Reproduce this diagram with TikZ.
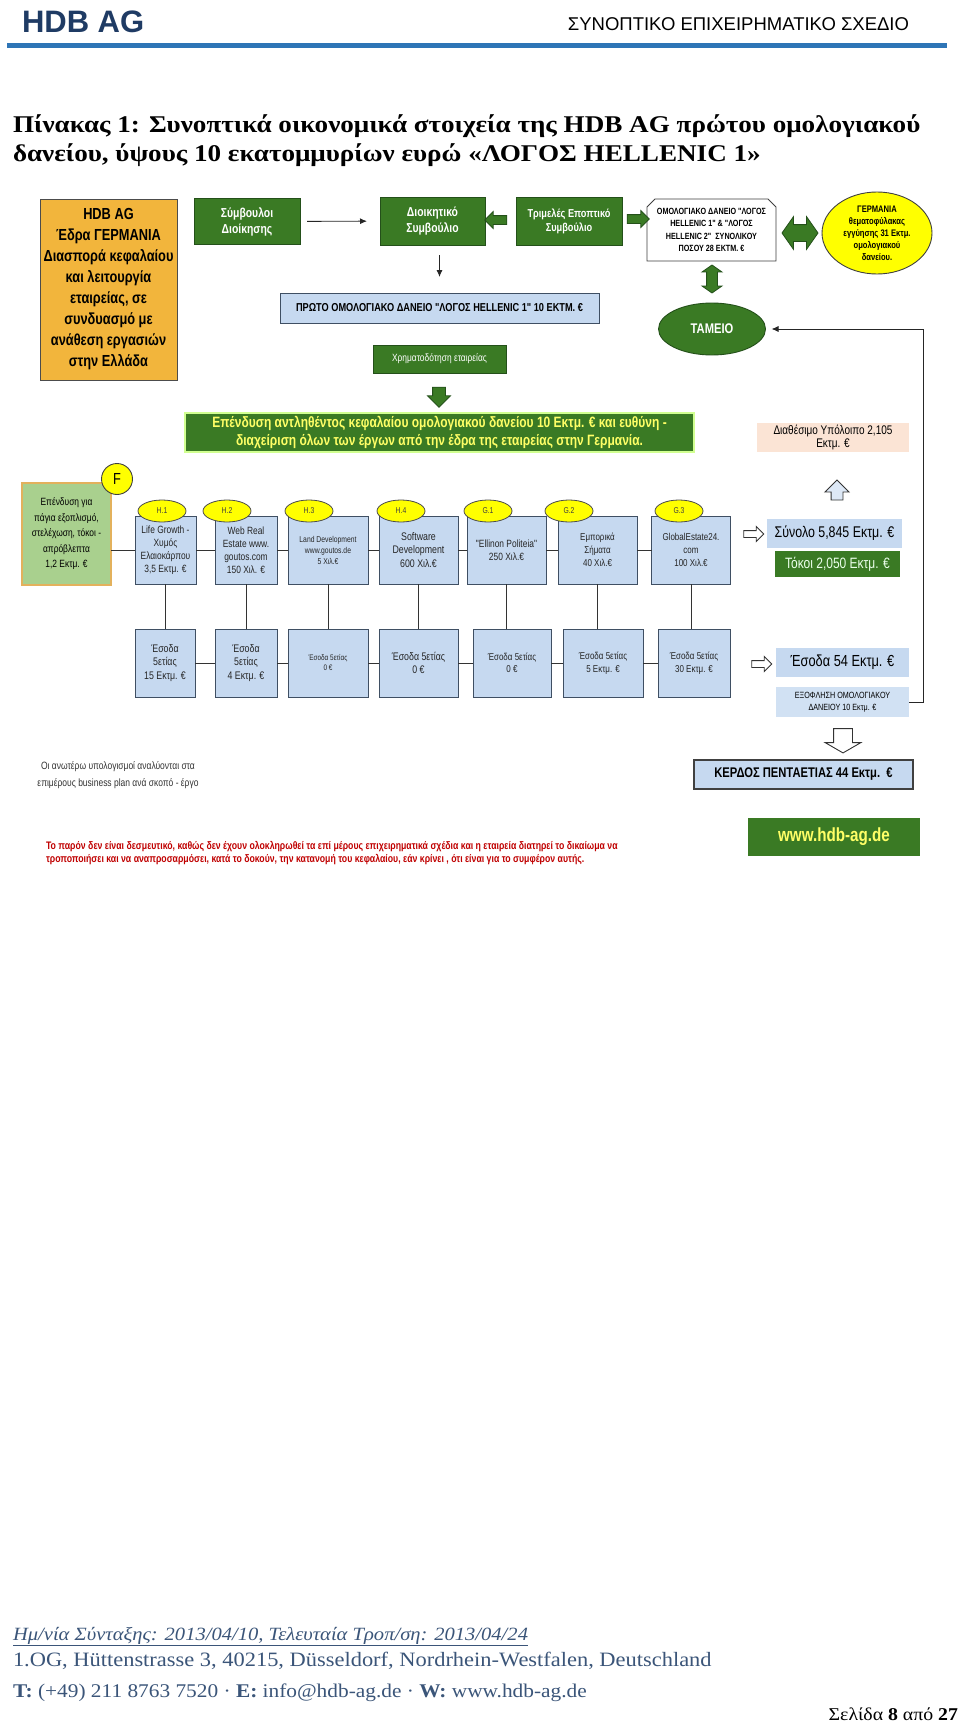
\documentclass[tikz,border=0pt]{standalone}
\usepackage{fontspec}
\setmainfont{Liberation Serif}
\setsansfont{Liberation Sans}
\newfontfamily\narrowsf[FakeStretch=0.8]{Liberation Sans}
\newfontfamily\wideserif[FakeStretch=1.1]{Liberation Serif}
\newfontfamily\titleserif[FakeStretch=1.13]{Liberation Serif}
\usepackage{xcolor}
\usepackage{tikz}
\usetikzlibrary{arrows.meta,positioning,shapes.geometric,shapes.arrows,shapes.misc}
\definecolor{hdbnavy}{HTML}{1F3B64}
\definecolor{hdbrule}{HTML}{2E75B6}
\definecolor{hdbgreen}{HTML}{3A7A24}
\definecolor{hdbgreendark}{HTML}{24501A}
\definecolor{hdbpale}{HTML}{C6D9F0}
\definecolor{hdbedge}{HTML}{3F4F63}
\definecolor{hdbgold}{HTML}{F2B53C}
\definecolor{hdbyellow}{HTML}{FFFF00}
\definecolor{hdbsage}{HTML}{A9D08E}
\definecolor{hdbtan}{HTML}{E3B15C}
\definecolor{hdbpeach}{HTML}{FBE4D5}
\definecolor{hdbred}{HTML}{C00000}
\definecolor{hdbfoot}{HTML}{3B5579}
\definecolor{hdblemon}{HTML}{FFFF66}
\newcommand{\fsz}[2]{\fontsize{#1}{#2}\selectfont}

\begin{document}
\begin{tikzpicture}[
    x=1pt, y=-1pt,
    every node/.style={inner sep=0pt, outer sep=0pt},
    box/.style={draw=hdbedge, line width=.9pt, align=center},
    greenbox/.style={box, fill=hdbgreen, draw=hdbgreendark, text=white},
    projbox/.style={box, fill=hdbpale, minimum height=68, text=black!85},
    tag/.style={ellipse, draw=black!70, fill=hdbyellow, line width=.8pt,
      minimum width=48, minimum height=22, text=black!75,
      font=\narrowsf\fsz{8.5}{9}},
    panel/.style={fill=hdbpale, align=center},
    flow/.style={-{Latex[length=7pt,width=6pt]}, line width=.9pt, black!85},
    wire/.style={line width=.9pt, black!80},
    solidarrow/.style={single arrow, draw=hdbgreendark, fill=hdbgreen,
      line width=.8pt},
    solidpair/.style={double arrow, draw=hdbgreendark, fill=hdbgreen,
      line width=.8pt, double arrow tip angle=110},
    hollowarrow/.style={single arrow, draw=black!80, fill=white,
      line width=.9pt}
  ]
    \fill[white] (0,0) rectangle (960,1723);

    \node[anchor=base west, text=hdbnavy, font=\sffamily\bfseries\fsz{31}{34}]
      (brand) at (22,33) {HDB AG};
    \node[anchor=base east, font=\sffamily\fsz{18.5}{20}] (runhead) at (909,31)
      {ΣΥΝΟΠΤΙΚΟ ΕΠΙΧΕΙΡΗΜΑΤΙΚΟ ΣΧΕΔΙΟ};
    \draw[hdbrule, line width=5pt] (7,46) -- (947,46);

    \node[anchor=base west, font=\titleserif\bfseries\fsz{24}{29}] (title1)
      at (13,133) {Πίνακας 1: Συνοπτικά οικονομικά στοιχεία της HDB AG πρώτου ομολογιακού};
    \node[anchor=base west, font=\titleserif\bfseries\fsz{24}{29}] (title2)
      at (13,162) {δανείου, ύψους 10 εκατομμυρίων ευρώ «ΛΟΓΟΣ HELLENIC 1»};

    \node[box, fill=hdbgold, draw=black!70, minimum width=137, minimum height=181,
      font=\narrowsf\bfseries\fsz{16}{21}] (seat) at (108.5,289.5)
      {HDB AG\\Έδρα ΓΕΡΜΑΝΙΑ\\Διασπορά κεφαλαίου\\και λειτουργία\\εταιρείας, σε\\συνδυασμό με\\ανάθεση εργασιών\\στην Ελλάδα};
    \node[greenbox, minimum width=106, minimum height=46,
      font=\narrowsf\bfseries\fsz{13}{16}] (advisors) at (247,221.5)
      {Σύμβουλοι\\Διοίκησης};
    \node[greenbox, minimum width=105, minimum height=48,
      font=\narrowsf\bfseries\fsz{13}{16}] (board) at (432.5,221)
      {Διοικητικό\\Συμβούλιο};
    \node[greenbox, minimum width=106, minimum height=48,
      font=\narrowsf\bfseries\fsz{11.5}{14}] (supervisory) at (569,221)
      {Τριμελές Εποπτικό\\Συμβούλιο};
    \node[box, chamfered rectangle, chamfered rectangle corners={north west,north east},
      chamfered rectangle sep=4pt, draw=black!75, fill=white,
      minimum width=129, minimum height=62,
      font=\narrowsf\bfseries\fsz{9}{12.5}] (bonds) at (711.5,230)
      {ΟΜΟΛΟΓΙΑΚΟ ΔΑΝΕΙΟ "ΛΟΓΟΣ\\HELLENIC 1" \& "ΛΟΓΟΣ\\HELLENIC 2"\ \ ΣΥΝΟΛΙΚΟΥ\\ΠΟΣΟΥ 28 ΕΚΤΜ. €};
    \node[ellipse, draw=black!75, fill=hdbyellow, line width=.9pt, align=center,
      minimum width=110, minimum height=82,
      font=\narrowsf\bfseries\fsz{9.5}{12}] (custodian) at (877,233)
      {ΓΕΡΜΑΝΙΑ\\θεματοφύλακας\\εγγύησης 31 Εκτμ.\\ομολογιακού\\δανείου.};
    \node[ellipse, fill=hdbgreen, draw=hdbgreendark, line width=.9pt, text=white,
      minimum width=107, minimum height=52,
      font=\narrowsf\bfseries\fsz{14}{16}] (treasury) at (712,329) {ΤΑΜΕΙΟ};

    \node[solidarrow, shape border rotate=180, minimum height=22, inner sep=4pt,
      single arrow head extend=4pt] (toboard) at (498,220) {};
    \node[solidarrow, minimum height=22, inner sep=4pt,
      single arrow head extend=4pt] (tobonds) at (636,219) {};
    \node[solidpair, minimum height=36, inner sep=8pt,
      double arrow head extend=8pt] (guarantee) at (800,233) {};
    \node[solidpair, shape border rotate=90, minimum height=28, inner sep=5pt,
      double arrow head extend=4.5pt] (fund) at (712,279) {};

    \node[box, fill=hdbpale, minimum width=319, minimum height=30,
      font=\narrowsf\bfseries\fsz{11.5}{13}] (firstbond) at (439.5,308)
      {ΠΡΩΤΟ ΟΜΟΛΟΓΙΑΚΟ ΔΑΝΕΙΟ "ΛΟΓΟΣ HELLENIC 1" 10 ΕΚΤΜ. €};
    \node[greenbox, minimum width=133, minimum height=28,
      font=\narrowsf\fsz{10.5}{12}] (financing) at (439.5,359)
      {Χρηματοδότηση εταιρείας};
    \node[solidarrow, shape border rotate=270, minimum height=20, inner sep=6pt,
      single arrow head extend=5pt] (toinvest) at (439,394) {};
    \node[greenbox, draw=hdblemon!70!green!60, line width=1.2pt, text=hdblemon,
      minimum width=509, minimum height=39,
      font=\narrowsf\bfseries\fsz{15}{17.5}] (invest) at (439.5,432.5)
      {Επένδυση αντληθέντος κεφαλαίου ομολογιακού δανείου 10 Εκτμ. € και ευθύνη -\\διαχείριση όλων των έργων από την έδρα της εταιρείας στην Γερμανία.};

    \draw[flow, shorten <=7pt, shorten >=13pt] (advisors) -- (board);
    \draw[flow, shorten <=10pt, shorten >=16pt] (firstbond.north |- board.south)
      -- (firstbond.north);

    \node[fill=hdbpeach, align=center, minimum width=152, minimum height=29,
      font=\narrowsf\fsz{12.5}{13}] (balance) at (833,437.5)
      {Διαθέσιμο Υπόλοιπο 2,105\\Εκτμ. €};
    \node[hollowarrow, fill=hdbpale!60, shape border rotate=90, minimum height=20,
      inner sep=5.5pt, single arrow head extend=6pt] (upbalance) at (837,493) {};

    \node[box, fill=hdbsage, draw=hdbtan, line width=1.2pt, minimum width=89,
      minimum height=102, font=\narrowsf\fsz{10.5}{15.5}] (fixed) at (66.5,534)
      {Επένδυση για\\πάγια εξοπλισμό,\\στελέχωση, τόκοι -\\απρόβλεπτα\\1,2 Εκτμ. €};
    \node[circle, draw=black!75, fill=hdbyellow, line width=.9pt, minimum size=31,
      font=\narrowsf\fsz{16}{18}] (ftag) at (117,479) {F};

    \node[projbox, minimum width=61, font=\narrowsf\fsz{10.5}{13}] (h1)
      at (165.5,550) {Life Growth -\\Χυμός\\Ελαιοκάρπου\\3,5 Εκτμ. €};
    \node[projbox, minimum width=62, font=\narrowsf\fsz{10.5}{13}] (h2)
      at (246,550) {Web Real\\Estate www.\\goutos.com\\150 Χιλ. €};
    \node[projbox, minimum width=80, font=\narrowsf\fsz{8.5}{11}] (h3)
      at (328,550) {Land Development\\www.goutos.de\\5 Χιλ.€};
    \node[projbox, minimum width=79, font=\narrowsf\fsz{11}{13.5}] (h4)
      at (418.5,550) {Software\\Development\\600 Χιλ.€};
    \node[projbox, minimum width=79, font=\narrowsf\fsz{10.5}{13}] (g1)
      at (506.5,550) {"Ellinon Politeia"\\250 Χιλ.€};
    \node[projbox, minimum width=79, font=\narrowsf\fsz{10}{13}] (g2)
      at (597.5,550) {Εμπορικά\\Σήματα\\40 Χιλ.€};
    \node[projbox, minimum width=79, font=\narrowsf\fsz{10}{13}] (g3)
      at (691,550) {GlobalEstate24.\\com\\100 Χιλ.€};

    \node[projbox, minimum width=60, font=\narrowsf\fsz{11}{13.5}] (b1)
      at (165,663) {Έσοδα\\5ετίας\\15 Εκτμ. €};
    \node[projbox, minimum width=62, font=\narrowsf\fsz{11}{13.5}] (b2)
      at (246,663) {Έσοδα\\5ετίας\\4 Εκτμ. €};
    \node[projbox, minimum width=80, font=\narrowsf\fsz{8}{10}] (b3)
      at (328,663) {Έσοδα 5ετίας\\0 €};
    \node[projbox, minimum width=79, font=\narrowsf\fsz{11}{13.5}] (b4)
      at (418.5,663) {Έσοδα 5ετίας\\0 €};
    \node[projbox, minimum width=78, font=\narrowsf\fsz{10}{12.5}] (b5)
      at (512,663) {Έσοδα 5ετίας\\0 €};
    \node[projbox, minimum width=80, font=\narrowsf\fsz{10}{12.5}] (b6)
      at (603,663) {Έσοδα 5ετίας\\5 Εκτμ. €};
    \node[projbox, minimum width=72, font=\narrowsf\fsz{10}{12.5}] (b7)
      at (694,663) {Έσοδα 5ετίας\\30 Εκτμ. €};

    \draw[wire] (fixed.east |- h1.west) -- (h1.west);
    \foreach \a/\b in {h1/h2,h2/h3,h3/h4,h4/g1,g1/g2,g2/g3,
                       b1/b2,b2/b3,b3/b4,b4/b5,b5/b6,b6/b7}
      \draw[wire] (\a.east) -- (\b.west);
    \foreach \a/\b in {h1/b1,h2/b2,h3/b3,h4/b4,g1/b5,g2/b6,g3/b7}
      \draw[wire] (\a.south) -- (\a.south |- \b.north);

    \node[tag] (t1) at (162,511) {H.1};
    \node[tag] (t2) at (227,511) {H.2};
    \node[tag] (t3) at (309,511) {H.3};
    \node[tag] (t4) at (401,511) {H.4};
    \node[tag] (t5) at (488,511) {G.1};
    \node[tag] (t6) at (569,511) {G.2};
    \node[tag] (t7) at (679,511) {G.3};

    \node[hollowarrow, minimum height=20, inner sep=3pt,
      single arrow head extend=4pt] (tosum) at (752,534) {};
    \node[panel, minimum width=135, minimum height=29,
      font=\narrowsf\fsz{15.5}{18}] (total) at (834.5,533.5) {Σύνολο 5,845 Εκτμ. €};
    \node[fill=hdbgreen, text=green!8, minimum width=125, minimum height=26,
      font=\narrowsf\fsz{15}{17}] (interest) at (837.5,564) {Τόκοι 2,050 Εκτμ. €};

    \node[hollowarrow, minimum height=20, inner sep=3pt,
      single arrow head extend=4pt] (torevenue) at (760,664) {};
    \node[panel, minimum width=133, minimum height=29,
      font=\narrowsf\fsz{16}{18}] (revenue) at (842.5,662.5) {Έσοδα 54 Εκτμ. €};
    \node[panel, fill=hdbpale!80, minimum width=133, minimum height=30,
      font=\narrowsf\fsz{9}{12}] (repay) at (842.5,702)
      {ΕΞΟΦΛΗΣΗ ΟΜΟΛΟΓΙΑΚΟΥ\\ΔΑΝΕΙΟΥ 10 Εκτμ. €};
    \node[hollowarrow, shape border rotate=270, minimum height=21, inner sep=9pt,
      single arrow head extend=8.5pt, single arrow tip angle=120] (toprofit)
      at (843,738) {};
    \node[box, fill=hdbpale, draw=black!75, line width=1.1pt, minimum width=219,
      minimum height=29, font=\narrowsf\bfseries\fsz{14}{15}] (profit)
      at (803.5,774.5) {ΚΕΡΔΟΣ ΠΕΝΤΑΕΤΙΑΣ 44 Εκτμ.\ \ €};

    \coordinate (turn) at (923,702);
    \draw[flow, shorten >=6pt] (repay.east) -- (turn) |- (treasury.east);

    \node[align=center, text=black!80, font=\narrowsf\fsz{10.6}{16.5}] (note)
      at (118,775) {Οι ανωτέρω υπολογισμοί αναλύονται στα\\επιμέρους business plan ανά σκοπό - έργο};
    \node[fill=hdbgreen, text=hdblemon, minimum width=172, minimum height=38,
      font=\narrowsf\bfseries\fsz{19}{21}] (web) at (834,837) {www.hdb-ag.de};
    \node[anchor=west, align=left, text=hdbred, font=\narrowsf\bfseries\fsz{10.9}{13}]
      (disclaimer) at (46,853.5)
      {Το παρόν δεν είναι δεσμευτικό, καθώς δεν έχουν ολοκληρωθεί τα επί μέρους επιχειρηματικά σχέδια και η εταιρεία διατηρεί το δικαίωμα να\\τροποποιήσει και να αναπροσαρμόσει, κατά το δοκούν, την κατανομή του κεφαλαίου, εάν κρίνει , ότι είναι για το συμφέρον αυτής.};

    \node[anchor=base west, text=hdbfoot, font=\wideserif\itshape\fsz{18.7}{22}]
      (dates) at (13,1640)
      {\underline{Ημ/νία Σύνταξης: 2013/04/10, Τελευταία Τροπ/ση: 2013/04/24}};
    \node[anchor=base west, text=hdbfoot, font=\wideserif\fsz{20.4}{22}]
      (address) at (13,1666)
      {1.OG, Hüttenstrasse 3, 40215, Düsseldorf, Nordrhein-Westfalen, Deutschland};
    \node[anchor=base west, text=hdbfoot, font=\wideserif\fsz{19.4}{22}]
      (contact) at (13,1697)
      {\textbf{T:} (+49) 211 8763 7520 · \textbf{E:} info@hdb-ag.de · \textbf{W:} www.hdb-ag.de};
    \node[anchor=base east, font=\wideserif\fsz{18}{20}] (page) at (958,1720)
      {Σελίδα \textbf{8} από \textbf{27}};
\end{tikzpicture}
\end{document}
